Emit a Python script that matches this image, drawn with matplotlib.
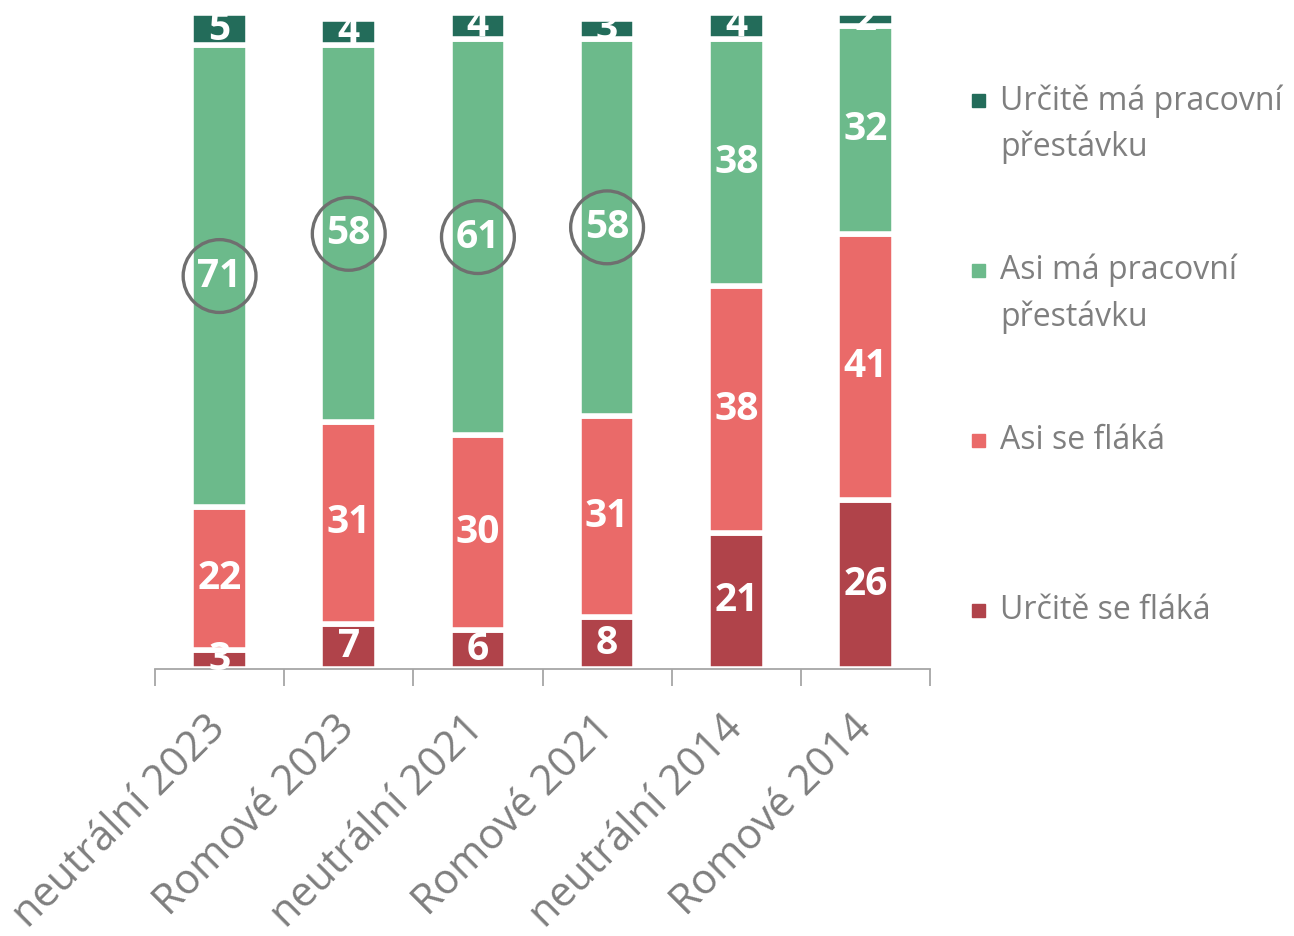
import numpy as np
import matplotlib.pyplot as plt
from matplotlib.patches import Rectangle

plt.rcParams['font.family'] = ['Open Sans', 'DejaVu Sans']

groups = ["neutrální 2023", "Romové 2023", "neutrální 2021",
          "Romové 2021", "neutrální 2014", "Romové 2014"]
urcite_se_flaka = [3, 7, 6, 8, 21, 26]
asi_se_flaka = [22, 31, 30, 31, 38, 41]
asi_ma_prestavku = [71, 58, 61, 58, 38, 32]
urcite_ma_prestavku = [5, 4, 4, 3, 4, 2]
circled = [0, 1, 2, 3]  # bars whose "Asi má" value is circled

series = [
    ("Určitě se fláká", urcite_se_flaka, "#B0434A"),
    ("Asi se fláká", asi_se_flaka, "#EA6A69"),
    ("Asi má pracovní\npřestávku", asi_ma_prestavku, "#6CBA8B"),
    ("Určitě má pracovní\npřestávku", urcite_ma_prestavku, "#236C5A"),
]

fig = plt.figure(figsize=(12.94, 9.36), dpi=100)
ax = fig.add_axes([155 / 1294, 1 - 669 / 936, 775 / 1294, 656 / 936])

x = np.arange(len(groups))
bottom = np.zeros(len(groups))
for name, vals, col in series:
    vals = np.array(vals, dtype=float)
    ax.bar(x, vals, 0.44, bottom=bottom, color=col, edgecolor="white",
           linewidth=4, zorder=2)
    for xi, b, v in zip(x, bottom, vals):
        ax.text(xi, b + v / 2, f"{v:.0f}", ha="center", va="center",
                color="white", fontsize=28, fontweight="bold", zorder=4,
                clip_on=False)
    if name.startswith("Asi má"):
        cx = x[circled]
        cy = bottom[circled] + vals[circled] / 2
        ax.scatter(cx, cy, s=2750, facecolors="none", edgecolors="#6F6F6F",
                   linewidths=2.4, zorder=5, clip_on=False)
    bottom += vals

ax.set_xlim(-0.5, len(groups) - 0.5)
ax.set_ylim(0, 101)
for s in ["top", "right", "left"]:
    ax.spines[s].set_visible(False)
ax.spines["bottom"].set_color("#A6A6A6")
ax.spines["bottom"].set_linewidth(1.3)
ax.set_yticks([])
ax.set_xticks(x)
ax.set_xticklabels(groups, rotation=45, ha="right", va="center",
                   rotation_mode="anchor", fontsize=30, color="#7F7F7F")
ax.tick_params(axis="x", which="major", length=0, pad=38)
ax.set_xticks(np.arange(-0.5, len(groups)), minor=True)
ax.tick_params(axis="x", which="minor", length=12, width=1.3, color="#A6A6A6")

# legend, top entry first
leg_y = [100, 270, 440, 610]
for (name, vals, col), yp in zip(series[::-1], leg_y):
    fig.add_artist(Rectangle((972 / 1294, 1 - (yp + 7) / 936), 13 / 1294, 13 / 936,
                             transform=fig.transFigure, color=col))
    fig.text(1000 / 1294, 1 - (yp - 16) / 936, name, ha="left", va="top",
             fontsize=23, color="#7F7F7F", linespacing=1.5)

fig.savefig("out.png", dpi=100)
